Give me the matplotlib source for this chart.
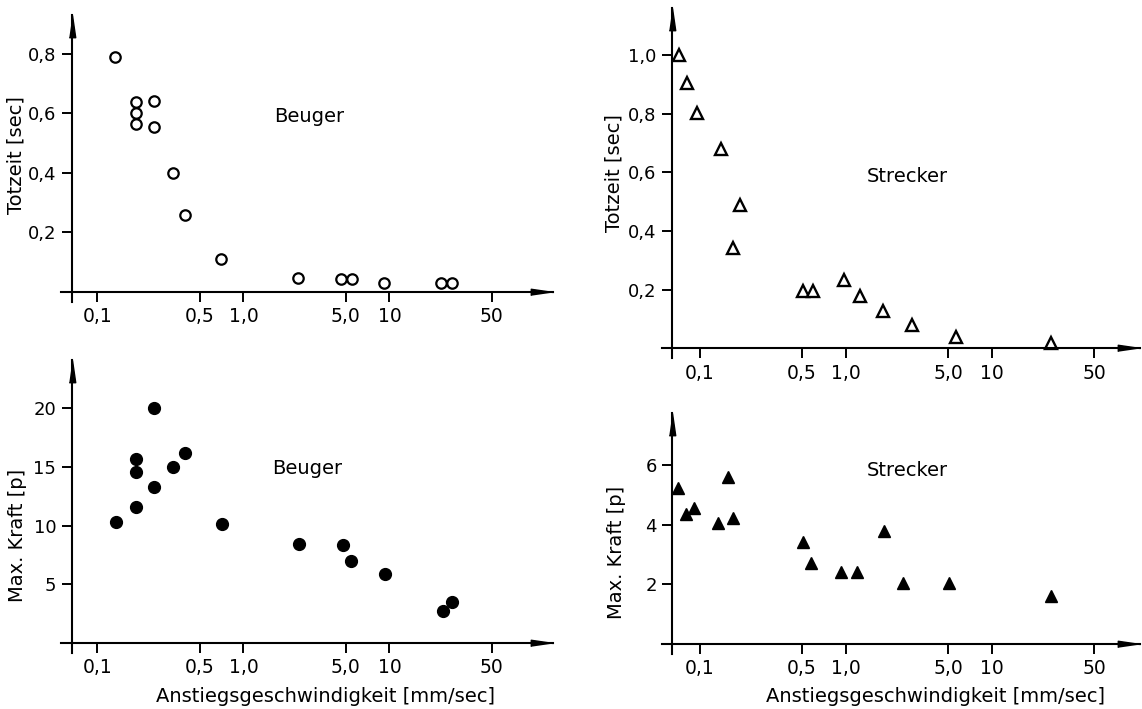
import matplotlib
matplotlib.use("Agg")
import matplotlib.pyplot as plt

W, H = 1142, 709

# data -----------------------------------------------------------------------
x_ticks = [0.1, 0.5, 1.0, 5.0, 10, 50]
x_ticklabels = ["0,1", "0,5", "1,0", "5,0", "10", "50"]

beuger_tot_x = [0.131, 0.183, 0.183, 0.183, 0.243, 0.243, 0.327, 0.398, 0.70,
                2.36, 4.64, 5.5, 9.14, 22.5, 26.7]
beuger_tot_y = [0.79, 0.64, 0.60, 0.565, 0.642, 0.553, 0.40, 0.26, 0.11,
                0.048, 0.045, 0.045, 0.031, 0.031, 0.031]

beuger_kraft_x = [0.134, 0.183, 0.183, 0.183, 0.245, 0.245, 0.33, 0.40, 0.716,
                  2.39, 4.79, 5.49, 9.3, 23.1, 26.6]
beuger_kraft_y = [10.3, 15.7, 14.6, 11.6, 20.0, 13.3, 15.0, 16.2, 10.1,
                  8.4, 8.35, 7.0, 5.9, 2.7, 3.5]

strecker_tot_x = [0.0713, 0.0814, 0.0954, 0.14, 0.187, 0.169, 0.507, 0.597,
                  0.966, 1.24, 1.79, 2.82, 5.63, 25.4]
strecker_tot_y = [1.0, 0.906, 0.801, 0.678, 0.49, 0.341, 0.195, 0.195,
                  0.233, 0.178, 0.128, 0.079, 0.04, 0.017]

strecker_kraft_x = [0.0703, 0.080, 0.091, 0.132, 0.155, 0.169, 0.504, 0.573,
                    0.927, 1.19, 1.81, 2.44, 5.1, 25.3]
strecker_kraft_y = [5.23, 4.37, 4.56, 4.06, 5.62, 4.22, 3.44, 2.73,
                    2.40, 2.40, 3.81, 2.04, 2.04, 1.61]

tot_ticks_b = [0.2, 0.4, 0.6, 0.8]
tot_ticks_s = [0.2, 0.4, 0.6, 0.8, 1.0]
kraft_ticks_b = [5, 10, 15, 20]
kraft_ticks_s = [2, 4, 6]

plt.rcParams["font.family"] = "DejaVu Sans"
fig = plt.figure(figsize=(W / 100, H / 100), dpi=100)
fig.patch.set_facecolor("white")

# long, narrow arrow heads with the tip at the marker origin
ARROW_X = [(0, 0), (-22, 3.2), (-22, -3.2)]
ARROW_Y = [(0, 0), (3.2, -22), (-3.2, -22)]


def panel(x0, x1, ytop, ybot, xlim, ylim, xcross):
    ax = fig.add_axes([x0 / W, 1 - ybot / H, (x1 - x0) / W, (ybot - ytop) / H])
    ax.set_xscale("log")
    ax.set_xlim(*xlim)
    ax.set_ylim(*ylim)
    for s in ("top", "right"):
        ax.spines[s].set_visible(False)
    ax.spines["left"].set_position(("data", xcross))
    ax.spines["bottom"].set_position(("data", 0))
    for s in ("left", "bottom"):
        ax.spines[s].set_linewidth(1.5)
    ax.set_xticks(x_ticks)
    ax.set_xticklabels(x_ticklabels)
    ax.minorticks_off()
    ax.tick_params(direction="out", length=7, width=1.4, labelsize=13.5, pad=4)
    ax.tick_params(axis="y", labelsize=13)
    ax.patch.set_alpha(0)
    ax.plot([1], [0], marker=ARROW_X, ms=32, color="black",
            transform=ax.get_yaxis_transform(), clip_on=False)
    ax.plot([xcross], [1], marker=ARROW_Y, ms=32, color="black",
            transform=ax.get_xaxis_transform(), clip_on=False)
    return ax


def ftext(x, y, s, **kw):
    fig.text(x / W, 1 - y / H, s, ha="center", va="center", fontsize=14, **kw)


# Beuger, Totzeit
ax1 = panel(61, 553, 15, 302, (10 ** -1.25, 10 ** 2.12), (-0.0336, 0.931), 10 ** -1.178)
ax1.plot(beuger_tot_x, beuger_tot_y, "o", ms=7.5, mfc="white", mec="black",
         mew=1.6, clip_on=False)
ax1.set_yticks(tot_ticks_b)
ax1.set_yticklabels([f"{v:.1f}".replace(".", ",") for v in tot_ticks_b])

# Beuger, Kraft
ax2 = panel(61, 553, 360, 653, (10 ** -1.25, 10 ** 2.12), (-0.85, 24.1), 10 ** -1.178)
ax2.plot(beuger_kraft_x, beuger_kraft_y, "o", ms=8.5, color="black", clip_on=False)
ax2.set_yticks(kraft_ticks_b)
ax2.set_yticklabels([str(v) for v in kraft_ticks_b])

# Strecker, Totzeit
ax3 = panel(662, 1140, 8, 358, (10 ** -1.26, 10 ** 2.014), (-0.033, 1.16), 10 ** -1.192)
ax3.plot(strecker_tot_x, strecker_tot_y, "^", ms=8, mfc="white", mec="black",
         mew=1.7, clip_on=False)
ax3.set_yticks(tot_ticks_s)
ax3.set_yticklabels([f"{v:.1f}".replace(".", ",") for v in tot_ticks_s])

# Strecker, Kraft
ax4 = panel(662, 1140, 413, 654, (10 ** -1.26, 10 ** 2.014), (-0.34, 7.76), 10 ** -1.192)
ax4.plot(strecker_kraft_x, strecker_kraft_y, "^", ms=9, color="black", clip_on=False)
ax4.set_yticks(kraft_ticks_s)
ax4.set_yticklabels([str(v) for v in kraft_ticks_s])

# labels
ftext(16, 155, "Totzeit [sec]", rotation=90)
ftext(18, 535, "Max. Kraft [p]", rotation=90)
ftext(614, 173, "Totzeit [sec]", rotation=90)
ftext(616, 552, "Max. Kraft [p]", rotation=90)
ftext(325, 697, "Anstiegsgeschwindigkeit [mm/sec]")
ftext(935, 697, "Anstiegsgeschwindigkeit [mm/sec]")
ftext(309, 117, "Beuger")
ftext(307, 468, "Beuger")
ftext(907, 177, "Strecker")
ftext(907, 471, "Strecker")

fig.savefig("out.png", dpi=100, facecolor="white")
